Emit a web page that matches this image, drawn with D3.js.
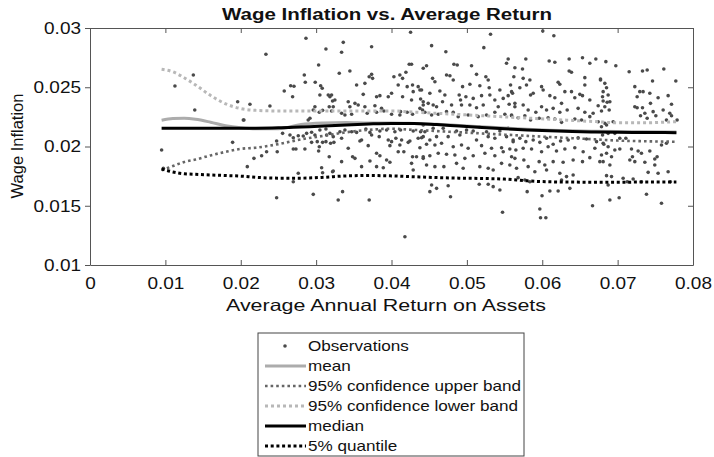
<!DOCTYPE html>
<html>
<head>
<meta charset="utf-8">
<script src="https://cdn.jsdelivr.net/npm/d3@7"></script>
<style>
body { margin: 0; background: #fff; }
text { font-family: "Liberation Sans", Arial, sans-serif; fill: #111; }
</style>
</head>
<body>
<svg id="chart" width="714" height="457"></svg>
<script>
// observations: [return on assets, wage inflation]
var obs = [
[0.01371,0.02603],[0.01127,0.02511],[0.0139,0.02308],[0.01959,0.02378],[0.02034,0.02224],[0.01892,0.02035],[0.0095,0.0197],[0.00973,0.01816],
[0.02865,0.02913],[0.02334,0.02778],[0.0313,0.02823],[0.03033,0.02688],[0.02843,0.02603],[0.02856,0.02542],[0.02577,0.02468],[0.02662,0.02513],
[0.02706,0.02508],[0.02688,0.0242],[0.02988,0.02542],[0.0306,0.02513],[0.03081,0.02491],[0.0305,0.02435],[0.03161,0.02435],[0.03183,0.0242],
[0.03218,0.02384],[0.02122,0.02356],[0.02387,0.02342],[0.02042,0.02224],[0.02984,0.02336],[0.02962,0.02308],[0.03042,0.02289],[0.03086,0.02305],
[0.03174,0.02336],[0.03205,0.023],[0.02895,0.02224],[0.02918,0.02238],[0.02555,0.02111],[0.02653,0.02097],[0.02697,0.02074],[0.02763,0.02091],
[0.02829,0.02089],[0.02874,0.02111],[0.0294,0.0212],[0.02984,0.02097],[0.0305,0.02139],[0.0313,0.02148],[0.03139,0.02097],[0.03183,0.02111],
[0.02476,0.02046],[0.02343,0.01956],[0.02484,0.01956],[0.02697,0.01979],[0.02732,0.01979],[0.02851,0.01979],[0.0294,0.02035],[0.03015,0.02041],
[0.03042,0.01998],[0.03033,0.01962],[0.03086,0.02035],[0.0313,0.02041],[0.03192,0.02027],[0.03236,0.02035],[0.03174,0.01914],[0.02175,0.019],
[0.02277,0.01922],[0.02087,0.0183],[0.03073,0.01821],[0.03086,0.01779],[0.03218,0.01787],[0.02763,0.01774],[0.02697,0.01703],[0.02476,0.01568],
[0.02962,0.01596],
[0.0336,0.02879],[0.03338,0.02795],[0.03736,0.02842],[0.04253,0.02964],[0.03307,0.02618],[0.03448,0.02637],[0.03736,0.02609],[0.03704,0.02589],
[0.03749,0.02575],[0.03537,0.02519],[0.03647,0.02533],[0.04032,0.02589],[0.04111,0.02603],[0.04147,0.02575],[0.04191,0.02626],[0.04235,0.02694],
[0.04266,0.02694],[0.04089,0.02519],[0.04208,0.02505],[0.04279,0.02519],[0.04354,0.02505],[0.04288,0.02463],[0.04377,0.02477],[0.03205,0.02435],
[0.03249,0.02392],[0.03426,0.02378],[0.03515,0.02364],[0.03625,0.0244],[0.03802,0.0242],[0.03846,0.02429],[0.03957,0.0242],[0.04001,0.02449],
[0.04147,0.0242],[0.04266,0.02392],[0.04386,0.02401],[0.04421,0.02378],[0.03227,0.02336],[0.03448,0.02336],[0.03558,0.0235],[0.03647,0.02336],
[0.0378,0.02344],[0.03868,0.02322],[0.03899,0.023],[0.0412,0.02294],[0.04208,0.02289],[0.04377,0.02322],[0.04412,0.02308],[0.03338,0.0228],
[0.03382,0.02266],[0.03471,0.02272],[0.03678,0.0228],[0.03802,0.02289],[0.04001,0.02272],[0.04111,0.02266],[0.04279,0.02272],[0.03249,0.02181],
[0.03316,0.02125],[0.03382,0.02139],[0.03471,0.02125],[0.03537,0.02119],[0.0366,0.02148],[0.03714,0.02119],[0.03846,0.02131],[0.03935,0.02139],
[0.04045,0.02125],[0.0412,0.02139],[0.04288,0.02131],[0.04386,0.02125],[0.04421,0.02083],[0.03227,0.02083],[0.03338,0.02069],[0.03603,0.02055],
[0.03736,0.02097],[0.03837,0.02083],[0.03957,0.02055],[0.04001,0.02041],[0.04058,0.02069],[0.04134,0.02055],[0.04244,0.02046],[0.04354,0.02069],
[0.03426,0.01985],[0.03581,0.02046],[0.03691,0.02007],[0.03979,0.02007],[0.04111,0.02013],[0.04222,0.02035],[0.04377,0.0199],[0.03802,0.01943],
[0.03846,0.01922],[0.03935,0.01886],[0.03515,0.019],[0.03484,0.01914],[0.03603,0.0183],[0.03714,0.01878],[0.03802,0.0183],[0.03891,0.01821],
[0.03338,0.01872],[0.03227,0.01793],[0.03979,0.01867],[0.04089,0.01956],[0.04164,0.01956],[0.04279,0.01914],[0.04332,0.01914],[0.04421,0.019],
[0.04266,0.01858],[0.04288,0.01802],[0.03351,0.01619],[0.03293,0.01549],[0.03704,0.01549],[0.04178,0.01239],
[0.04532,0.02851],[0.04721,0.028],[0.05225,0.02834],[0.05314,0.02947],[0.05548,0.02738],[0.05526,0.02702],[0.04421,0.0266],[0.04465,0.02682],
[0.04828,0.02694],[0.04872,0.02688],[0.05062,0.02682],[0.05128,0.02609],[0.05252,0.02589],[0.05283,0.02561],[0.04545,0.02575],[0.04576,0.02547],
[0.0473,0.02603],[0.04775,0.02597],[0.04819,0.02561],[0.04943,0.02505],[0.0504,0.02525],[0.05172,0.02513],[0.05296,0.02496],[0.05305,0.02435],
[0.05438,0.02477],[0.0558,0.02519],[0.05593,0.02463],[0.04399,0.02477],[0.04509,0.02449],[0.04642,0.02468],[0.04708,0.02435],[0.04898,0.02435],
[0.04916,0.02392],[0.04987,0.0242],[0.05084,0.02406],[0.05195,0.02429],[0.05371,0.02392],[0.05482,0.02406],[0.05548,0.02429],[0.04421,0.0235],
[0.04487,0.02364],[0.04553,0.0235],[0.04598,0.02336],[0.04677,0.02378],[0.04797,0.0235],[0.04929,0.0235],[0.0504,0.0235],[0.05128,0.02327],
[0.05217,0.0235],[0.05416,0.02336],[0.05561,0.02356],[0.05637,0.02336],[0.04443,0.02289],[0.04532,0.02266],[0.0462,0.02272],[0.0473,0.02294],
[0.04819,0.02289],[0.04885,0.02252],[0.05017,0.02266],[0.0515,0.02252],[0.05261,0.02266],[0.05371,0.02289],[0.05504,0.02272],[0.05593,0.0226],
[0.04421,0.02181],[0.04553,0.02154],[0.04686,0.02154],[0.04863,0.02131],[0.04996,0.02139],[0.05084,0.02131],[0.05164,0.02167],[0.05261,0.02125],
[0.05438,0.02131],[0.05548,0.02154],[0.04443,0.02125],[0.04399,0.02074],[0.04509,0.02055],[0.04598,0.02083],[0.04752,0.02083],[0.04907,0.02097],
[0.05128,0.02055],[0.05283,0.02083],[0.05371,0.02069],[0.05526,0.02083],[0.05614,0.02055],[0.04465,0.02019],[0.04576,0.02013],[0.04664,0.02027],
[0.04819,0.01998],[0.04929,0.02013],[0.05017,0.01985],[0.05195,0.02007],[0.05327,0.01985],[0.0546,0.0199],[0.0557,0.01979],[0.04421,0.01914],
[0.04509,0.01922],[0.0462,0.01943],[0.0473,0.01934],[0.04841,0.01928],[0.04973,0.019],[0.05084,0.01922],[0.05239,0.01943],[0.05371,0.01922],
[0.05482,0.01956],[0.05593,0.01914],[0.04465,0.01844],[0.04576,0.0183],[0.04695,0.0183],[0.04863,0.01858],[0.04951,0.01816],[0.05172,0.0183],
[0.05283,0.01816],[0.05349,0.01802],[0.0546,0.01858],[0.0557,0.01844],[0.04532,0.01675],[0.04598,0.01647],[0.04752,0.01669],[0.05164,0.01681],
[0.05283,0.01681],[0.05349,0.01661],[0.05438,0.01633],[0.04509,0.01619],[0.04783,0.01576],[0.05473,0.01445],
[0.06154,0.02935],[0.05782,0.02738],[0.06092,0.02722],[0.06167,0.02711],[0.06357,0.02738],[0.06534,0.02749],[0.06631,0.02702],[0.06711,0.02738],
[0.06357,0.02637],[0.06388,0.02626],[0.05637,0.02665],[0.05738,0.02654],[0.05623,0.02589],[0.05747,0.02575],[0.05836,0.02561],[0.06565,0.02581],
[0.06565,0.02519],[0.06773,0.0257],[0.06211,0.02542],[0.06233,0.02525],[0.063,0.02463],[0.05991,0.02505],[0.06012,0.02477],[0.06388,0.02463],
[0.06499,0.0244],[0.06534,0.02429],[0.05606,0.02449],[0.05703,0.02496],[0.05791,0.02519],[0.05845,0.02435],[0.0588,0.02449],[0.06101,0.02429],
[0.06167,0.02412],[0.06256,0.02364],[0.06432,0.02412],[0.06631,0.02392],[0.06742,0.02344],[0.06808,0.02384],[0.05637,0.02364],[0.05747,0.0235],
[0.05813,0.02308],[0.05915,0.02289],[0.05991,0.02336],[0.06057,0.02308],[0.06145,0.02322],[0.06233,0.02289],[0.06331,0.02308],[0.06476,0.02322],
[0.06565,0.02289],[0.06675,0.0228],[0.06786,0.023],[0.05593,0.02266],[0.0568,0.02243],[0.05769,0.0226],[0.05845,0.02224],[0.05959,0.02238],
[0.06078,0.02243],[0.06167,0.02232],[0.06256,0.02204],[0.06432,0.02232],[0.06521,0.02224],[0.06631,0.02252],[0.06742,0.02209],[0.0683,0.02196],
[0.05614,0.02041],[0.05703,0.02069],[0.05782,0.02041],[0.0588,0.02055],[0.05968,0.02035],[0.06057,0.02069],[0.06145,0.02019],[0.06243,0.02046],
[0.06344,0.02055],[0.06476,0.02074],[0.06587,0.02063],[0.0672,0.02041],[0.06808,0.02027],[0.0565,0.0197],[0.05747,0.01985],[0.05858,0.01979],
[0.05991,0.01956],[0.06078,0.01998],[0.06189,0.01962],[0.063,0.01979],[0.06432,0.0199],[0.06543,0.01956],[0.06698,0.01985],[0.05637,0.019],
[0.05756,0.01886],[0.05959,0.01872],[0.06034,0.01844],[0.06145,0.01872],[0.06277,0.01867],[0.0641,0.01886],[0.06534,0.01872],[0.06631,0.01906],
[0.06764,0.01872],[0.05659,0.01816],[0.05813,0.0183],[0.05902,0.01787],[0.06057,0.01802],[0.06233,0.01774],[0.06322,0.01746],[0.0641,0.0176],
[0.0568,0.01737],[0.05769,0.01717],[0.05836,0.01703],[0.06256,0.01717],[0.06366,0.01647],[0.06101,0.01624],[0.06211,0.01624],[0.05997,0.01585],
[0.058,0.01619],[0.05968,0.01473],[0.05977,0.01399],[0.06048,0.01399],[0.06667,0.015],
[0.06007,0.02975],[0.06844,0.02716],[0.06976,0.02682],[0.07153,0.02631],[0.0733,0.02637],[0.07392,0.02646],[0.07613,0.02654],[0.07772,0.02553],
[0.07463,0.02553],[0.06773,0.02561],[0.0683,0.02533],[0.06853,0.02496],[0.06808,0.02463],[0.068,0.0242],[0.06874,0.02435],[0.06861,0.02373],
[0.06897,0.02378],[0.0683,0.02336],[0.06888,0.02308],[0.07228,0.02505],[0.07294,0.02463],[0.07338,0.02463],[0.07427,0.02449],[0.07259,0.0242],
[0.07436,0.02364],[0.07537,0.02412],[0.0767,0.02429],[0.07715,0.02356],[0.07228,0.02336],[0.07259,0.02327],[0.0733,0.02327],[0.07361,0.0228],
[0.07304,0.0226],[0.07392,0.02238],[0.07471,0.02294],[0.07507,0.0226],[0.07604,0.02308],[0.07692,0.0228],[0.07715,0.0226],[0.07648,0.02224],
[0.07789,0.02224],[0.06786,0.02167],[0.06853,0.02181],[0.06941,0.02209],[0.068,0.02097],[0.06874,0.02111],[0.06963,0.02111],[0.07029,0.02069],
[0.07109,0.02069],[0.06817,0.02019],[0.06874,0.01998],[0.06963,0.0197],[0.07029,0.01979],[0.06786,0.01928],[0.06853,0.01943],[0.06919,0.01914],
[0.07184,0.01979],[0.07272,0.01962],[0.07316,0.01943],[0.07427,0.01962],[0.07493,0.01895],[0.07524,0.01914],[0.07582,0.02013],[0.07648,0.02027],
[0.06808,0.01872],[0.06897,0.01844],[0.07162,0.01886],[0.07197,0.01914],[0.07228,0.01872],[0.07361,0.01867],[0.07493,0.01844],[0.06853,0.01754],
[0.06919,0.01746],[0.07073,0.01732],[0.07127,0.01703],[0.07206,0.01726],[0.07316,0.01703],[0.07405,0.01782],[0.07537,0.01774],[0.0767,0.01787],
[0.07701,0.01703],[0.06874,0.01675],[0.06897,0.01549],[0.0702,0.01568],[0.07383,0.01597],[0.07582,0.01521]
];

// fitted curves, sampled along the return axis
var curveX = [0.0095,0.011,0.0125,0.014,0.016,0.018,0.020,0.022,0.025,0.028,0.031,0.034,0.037,
              0.040,0.043,0.046,0.049,0.052,0.055,0.058,0.061,0.064,0.067,0.070,0.073,0.0778];
var meanY = [0.02222,0.02236,0.02238,0.0223,0.02205,0.02175,0.02158,0.0215,0.0215,0.02185,0.02198,0.02202,0.02198,
             0.02198,0.02194,0.02188,0.02178,0.02166,0.02156,0.02146,0.02138,0.02132,0.02128,0.02126,0.02124,0.02122];
var upperY = [0.0180,0.01835,0.0187,0.0189,0.01925,0.01955,0.0198,0.0199,0.0202,0.0206,0.0209,0.0212,0.0214,
              0.0215,0.0214,0.0213,0.0212,0.0211,0.0210,0.0209,0.0208,0.0207,0.0206,0.0205,0.02045,0.0204];
var lowerY = [0.02652,0.0263,0.0258,0.0252,0.0243,0.0236,0.0232,0.02305,0.0230,0.0230,0.0230,0.0230,0.0230,
              0.0230,0.0229,0.0228,0.0227,0.0226,0.0225,0.0224,0.0223,0.0222,0.0221,0.0220,0.0220,0.0221];
var medianY = [0.02155,0.02155,0.02155,0.02155,0.02155,0.02155,0.02155,0.02155,0.02158,0.02165,0.02172,0.02182,0.0219,
               0.02195,0.02195,0.02185,0.02172,0.0216,0.0215,0.0214,0.02132,0.02126,0.02122,0.0212,0.02118,0.02117];
var q5Y = [0.0181,0.01785,0.0177,0.01765,0.0176,0.01755,0.0175,0.0174,0.01733,0.01733,0.0174,0.01752,0.01755,
           0.01752,0.01745,0.01738,0.01733,0.0173,0.01725,0.0171,0.01702,0.017,0.01698,0.01698,0.017,0.017];

var xTicks = [0, 0.01, 0.02, 0.03, 0.04, 0.05, 0.06, 0.07, 0.08];
var xTickLabels = ["0", "0.01", "0.02", "0.03", "0.04", "0.05", "0.06", "0.07", "0.08"];
var yTicks = [0.01, 0.015, 0.02, 0.025, 0.03];
var yTickLabels = ["0.01", "0.015", "0.02", "0.025", "0.03"];
var legendLabels = ["Observations", "mean", "95% confidence upper band",
                    "95% confidence lower band", "median", "5% quantile"];

var svg = d3.select("#chart");
var margin = {left: 90, top: 28, right: 21, bottom: 192};
var width = 714, height = 457;

var xScale = d3.scaleLinear().domain([0, 0.08]).range([margin.left, width - margin.right]);
var yScale = d3.scaleLinear().domain([0.01, 0.03]).range([height - margin.bottom, margin.top]);

// the picture is a bit wider than tall, so text is stretched sideways
function widen(sel, k) {
    sel.each(function () {
        var len = this.getComputedTextLength();
        d3.select(this).attr("textLength", len * k).attr("lengthAdjust", "spacingAndGlyphs");
    });
}

// series styles
var series = [
    {name: "mean", ys: meanY, color: "#acacac", w: 3, dash: null},
    {name: "upper", ys: upperY, color: "#666", w: 2.6, dash: "2.6,3"},
    {name: "lower", ys: lowerY, color: "#b8b8b8", w: 3, dash: "3,3"},
    {name: "median", ys: medianY, color: "#000", w: 3, dash: null},
    {name: "q5", ys: q5Y, color: "#000", w: 3, dash: "3,2.7"}
];

// scatter
svg.append("g").selectAll("circle")
    .data(obs)
    .enter().append("circle")
    .attr("cx", function (d) { return xScale(d[0]); })
    .attr("cy", function (d) { return yScale(d[1]); })
    .attr("r", 1.8)
    .attr("fill", "#4a4a4a");

var line = d3.line()
    .x(function (d) { return xScale(d[0]); })
    .y(function (d) { return yScale(d[1]); })
    .curve(d3.curveMonotoneX);

// draw mean first so median lies on top of it
[series[2], series[1], series[0], series[4], series[3]].forEach(function (s) {
    var pts = curveX.map(function (x, i) { return [x, s.ys[i]]; });
    svg.append("path")
        .datum(pts)
        .attr("d", line)
        .attr("fill", "none")
        .attr("stroke", s.color)
        .attr("stroke-width", s.w)
        .attr("stroke-dasharray", s.dash);
});

// axes (ticks inside like matlab, left ones outside)
var axisColor = "#555";
var gx = svg.append("g")
    .attr("transform", "translate(0," + yScale(0.01) + ")")
    .call(d3.axisBottom(xScale).tickValues(xTicks)
        .tickFormat(function (d, i) { return xTickLabels[i]; })
        .tickSizeInner(-5).tickSizeOuter(0).tickPadding(12));
var gy = svg.append("g")
    .attr("transform", "translate(" + xScale(0) + ",0)")
    .call(d3.axisLeft(yScale).tickValues(yTicks)
        .tickFormat(function (d, i) { return yTickLabels[i]; })
        .tickSizeInner(5).tickSizeOuter(0).tickPadding(4));
var gt = svg.append("g")
    .attr("transform", "translate(0," + yScale(0.03) + ")")
    .call(d3.axisTop(xScale).tickValues(xTicks).tickFormat("").tickSizeInner(-5).tickSizeOuter(0));
var gr = svg.append("g")
    .attr("transform", "translate(" + xScale(0.08) + ",0)")
    .call(d3.axisRight(yScale).tickValues(yTicks).tickFormat("").tickSizeInner(-5).tickSizeOuter(0));

[gx, gy, gt, gr].forEach(function (g) {
    g.selectAll(".domain").attr("stroke", axisColor);
    g.selectAll(".tick line").attr("stroke", axisColor);
    g.selectAll("text")
        .style("font-family", "'Liberation Sans', Arial, sans-serif")
        .style("font-size", "16.5px")
        .attr("fill", "#111");
});
widen(gx.selectAll("text"), 1.15);
widen(gy.selectAll("text"), 1.15);

// title and axis labels
svg.append("text")
    .attr("x", 387).attr("y", 20)
    .attr("text-anchor", "middle")
    .style("font-size", "16px").style("font-weight", "bold")
    .attr("textLength", 330).attr("lengthAdjust", "spacingAndGlyphs")
    .text("Wage Inflation vs. Average Return");

svg.append("text")
    .attr("x", 386).attr("y", 311)
    .attr("text-anchor", "middle")
    .style("font-size", "16.5px")
    .attr("textLength", 320).attr("lengthAdjust", "spacingAndGlyphs")
    .text("Average Annual Return on Assets");

svg.append("text")
    .attr("transform", "translate(23,146) rotate(-90)")
    .attr("text-anchor", "middle")
    .style("font-size", "16.5px")
    .text("Wage Inflation");

// legend
var lg = svg.append("g").attr("transform", "translate(258,333)");
lg.append("rect")
    .attr("x", 0).attr("y", 0).attr("width", 266).attr("height", 123)
    .attr("fill", "#fff").attr("stroke", "#444").attr("stroke-width", 1);

var legendStyle = [null, series[0], series[1], series[2], series[3], series[4]];
legendLabels.forEach(function (label, i) {
    var cy = 13 + i * 20;
    var s = legendStyle[i];
    if (s === null) {
        lg.append("circle").attr("cx", 27).attr("cy", cy).attr("r", 1.8).attr("fill", "#4a4a4a");
    } else {
        lg.append("line")
            .attr("x1", 7).attr("x2", 48).attr("y1", cy).attr("y2", cy)
            .attr("stroke", s.color).attr("stroke-width", s.w)
            .attr("stroke-dasharray", s.dash);
    }
    lg.append("text")
        .attr("x", 50).attr("y", cy + 5)
        .style("font-size", "15px")
        .text(label);
});
widen(lg.selectAll("text"), 1.14);
</script>
</body>
</html>
